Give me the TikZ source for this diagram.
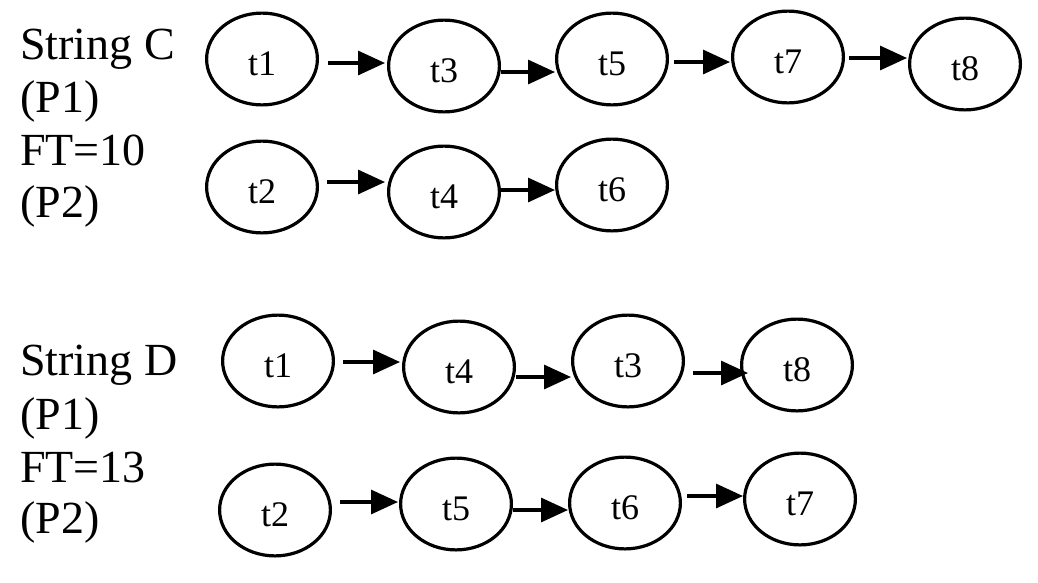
\documentclass[tikz,border=0pt]{standalone}
\usepackage{fontspec}
\setmainfont{Liberation Serif}
\usetikzlibrary{shapes.geometric,arrows.meta}
\begin{document}
\begin{tikzpicture}[x=1pt,y=-1pt,
  task/.style={ellipse,draw,line width=3.2pt,minimum width=110.8pt,minimum height=91.8pt,
    inner sep=0pt,font=\fontsize{36}{36}\selectfont,text height=32pt,text depth=0pt},
  lbl/.style={anchor=base west,inner sep=0pt,font=\fontsize{46}{46}\selectfont},
  arr/.style={line width=3.2pt,-{Triangle[length=27pt,width=24pt]}}]
\path[use as bounding box,fill=white] (0,0) rectangle (1038,582);
% String C labels
\node[lbl] (lc1) at (20,59) {String C};
\node[lbl] (lc2) at (20,112) {(P1)};
\node[lbl] (lc3) at (20,165) {FT=10};
\node[lbl] (lc4) at (20,217) {(P2)};
% String D labels
\node[lbl] (ld1) at (20,375) {String D};
\node[lbl] (ld2) at (20,429) {(P1)};
\node[lbl] (ld3) at (20,482) {FT=13};
\node[lbl] (ld4) at (20,533) {(P2)};
% Row 1
\node[task] (c1) at (262,59) {t1};
\node[task] (c3) at (444,66) {t3};
\node[task] (c5) at (612,59) {t5};
\node[task] (c7) at (788,57) {t7};
\node[task] (c8) at (965,64) {t8};
% Row 2
\node[task] (c2) at (262,187) {t2};
\node[task] (c4) at (444,192) {t4};
\node[task] (c6) at (612,185) {t6};
% Row 3
\node[task] (d1) at (278,361) {t1};
\node[task] (d4) at (459,367) {t4};
\node[task] (d3) at (628,361) {t3};
\node[task] (d8) at (797,365) {t8};
% Row 4
\node[task] (d2) at (275,510) {t2};
\node[task] (d5) at (456,504) {t5};
\node[task] (d6) at (625,503) {t6};
\node[task] (d7) at (800,499) {t7};
% Arrows row 1
\draw[arr] ([shift={(9,4)}]c1.east) -- ([shift={(-2,-3)}]c3.west);
\draw[arr] ([shift={(0,6)}]c3.east) -- ([shift={(0,13)}]c5.west);
\draw[arr] ([shift={(5,3)}]c5.east) -- ([shift={(-1,5)}]c7.west);
\draw[arr] ([shift={(4,1)}]c7.east) -- ([shift={(-1,-6)}]c8.west);
% Arrows row 2
\draw[arr] ([shift={(8,-5)}]c2.east) -- ([shift={(-2,-10)}]c4.west);
\draw[arr] ([shift={(0,-2)}]c4.east) -- ([shift={(0,5)}]c6.west);
% Arrows row 3
\draw[arr] ([shift={(8,1)}]d1.east) -- ([shift={(-2,-5)}]d4.west);
\draw[arr] ([shift={(0,10)}]d4.east) -- ([shift={(0,16)}]d3.west);
\draw[arr] ([shift={(8,12)}]d3.east) -- ([shift={(8,8)}]d8.west);
% Arrows row 4
\draw[arr] ([shift={(8,-8)}]d2.east) -- ([shift={(-1,-2)}]d5.west);
\draw[arr] ([shift={(0,6)}]d5.east) -- ([shift={(0,7)}]d6.west);
\draw[arr] ([shift={(5,-7)}]d6.east) -- ([shift={(0,-3)}]d7.west);
\end{tikzpicture}
\end{document}
